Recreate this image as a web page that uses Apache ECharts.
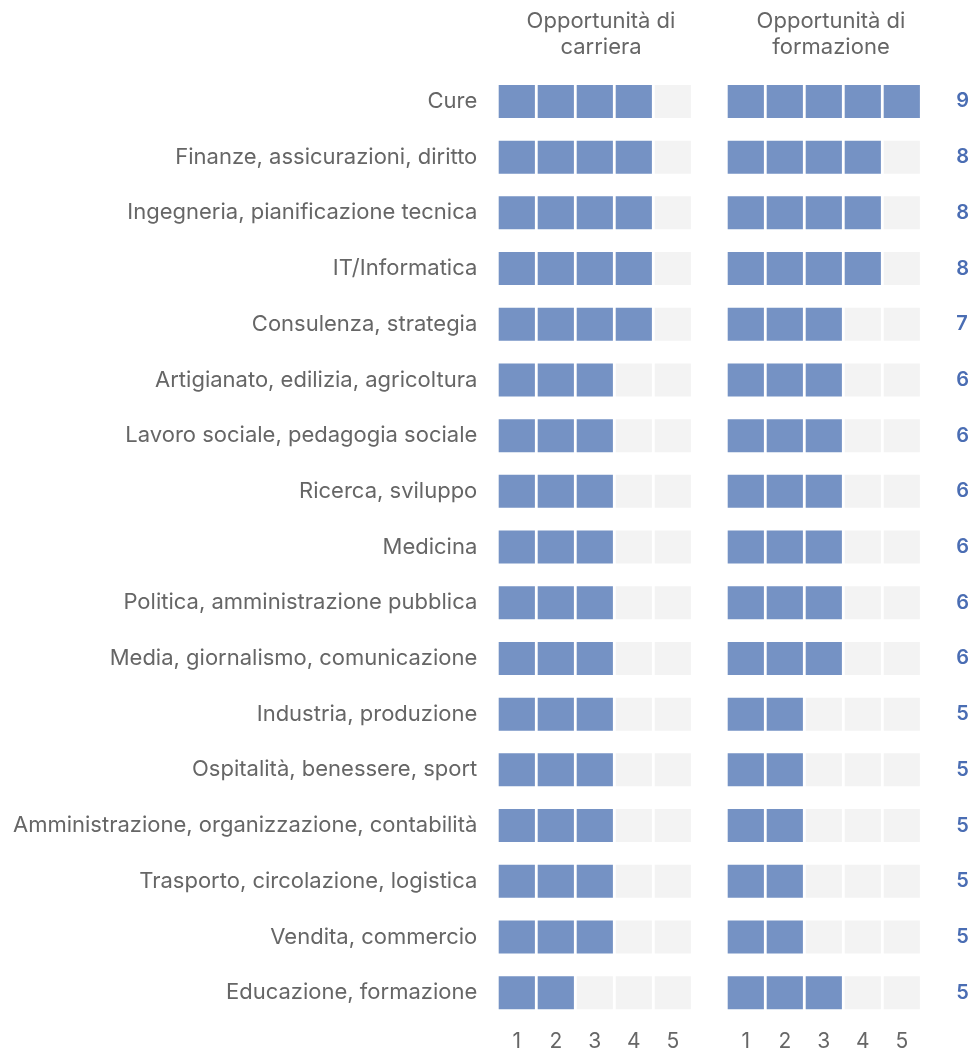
<!DOCTYPE html>
<html>
<head>
<meta charset="utf-8">
<script src="https://cdn.jsdelivr.net/npm/echarts@6/dist/echarts.min.js"></script>
<style>
  html, body { margin: 0; padding: 0; background: #fff; }
  #chart { width: 977px; height: 1053px; }
</style>
</head>
<body>
<div id="chart"></div>
<script>
const categories = [
    'Cure',
    'Finanze, assicurazioni, diritto',
    'Ingegneria, pianificazione tecnica',
    'IT/Informatica',
    'Consulenza, strategia',
    'Artigianato, edilizia, agricoltura',
    'Lavoro sociale, pedagogia sociale',
    'Ricerca, sviluppo',
    'Medicina',
    'Politica, amministrazione pubblica',
    'Media, giornalismo, comunicazione',
    'Industria, produzione',
    'Ospitalità, benessere, sport',
    'Amministrazione, organizzazione, contabilità',
    'Trasporto, circolazione, logistica',
    'Vendita, commercio',
    'Educazione, formazione'
];
const careerScores = [4, 4, 4, 4, 4, 3, 3, 3, 3, 3, 3, 3, 3, 3, 3, 3, 2];
const trainingScores = [5, 4, 4, 4, 3, 3, 3, 3, 3, 3, 3, 2, 2, 2, 2, 2, 3];
const totals = [9, 8, 8, 8, 7, 6, 6, 6, 6, 6, 6, 5, 5, 5, 5, 5, 5];
const scaleLabels = ['1', '2', '3', '4', '5'];

const COLOR_ON = '#7592c4';
const COLOR_OFF = '#f3f3f3';
const TEXT = '#666666';
const FONT = 'Inter';
const FONT_SIZE = 22;

function buildCells(scores) {
    const cells = [];
    scores.forEach((v, row) => {
        scaleLabels.forEach((lab, col) => {
            cells.push([col, row, col < v ? 1 : 0]);
        });
    });
    return cells;
}

function renderCell(params, api) {
    const p = api.coord([api.value(0), api.value(1)]);
    const size = api.size([1, 1]);
    const w = size[0] - 2.8;
    const h = 33;
    return {
        type: 'rect',
        shape: { x: p[0] - w / 2, y: p[1] - h / 2, width: w, height: h },
        style: { fill: api.value(2) ? COLOR_ON : COLOR_OFF }
    };
}

const gridTop = 73.6;
const gridHeight = 17 * 55.7;

const xAxisBase = {
    type: 'category',
    data: scaleLabels,
    axisLine: { show: false },
    axisTick: { show: false },
    axisLabel: { color: TEXT, fontSize: 21, fontFamily: FONT, margin: 11 }
};

const titleStyle = { color: TEXT, fontSize: FONT_SIZE, fontWeight: 'normal', fontFamily: FONT, lineHeight: 26 };

const chart = echarts.init(document.getElementById('chart'));
chart.setOption({
    animation: false,
    title: [
        { text: 'Opportunità di\ncarriera', left: 596, top: 3, textAlign: 'center', textStyle: titleStyle },
        { text: 'Opportunità di\nformazione', left: 826, top: 3, textAlign: 'center', textStyle: titleStyle }
    ],
    grid: [
        { left: 497.3, top: gridTop, width: 195, height: gridHeight },
        { left: 726.3, top: gridTop, width: 195, height: gridHeight }
    ],
    xAxis: [
        Object.assign({ gridIndex: 0 }, xAxisBase),
        Object.assign({ gridIndex: 1 }, xAxisBase)
    ],
    yAxis: [
        {
            gridIndex: 0, type: 'category', data: categories, inverse: true,
            axisLine: { show: false }, axisTick: { show: false },
            axisLabel: { color: TEXT, fontSize: FONT_SIZE, fontFamily: FONT, margin: 20 }
        },
        {
            gridIndex: 1, type: 'category', data: totals.map(String), inverse: true,
            position: 'right',
            axisLine: { show: false }, axisTick: { show: false },
            axisLabel: { color: '#4a6db3', fontSize: 20, fontWeight: 600, fontFamily: FONT, margin: 35, align: 'left' }
        }
    ],
    series: [
        {
            type: 'custom', xAxisIndex: 0, yAxisIndex: 0,
            renderItem: renderCell, data: buildCells(careerScores)
        },
        {
            type: 'custom', xAxisIndex: 1, yAxisIndex: 1,
            renderItem: renderCell, data: buildCells(trainingScores)
        }
    ]
});

window.addEventListener('resize', () => chart.resize());
</script>
</body>
</html>
